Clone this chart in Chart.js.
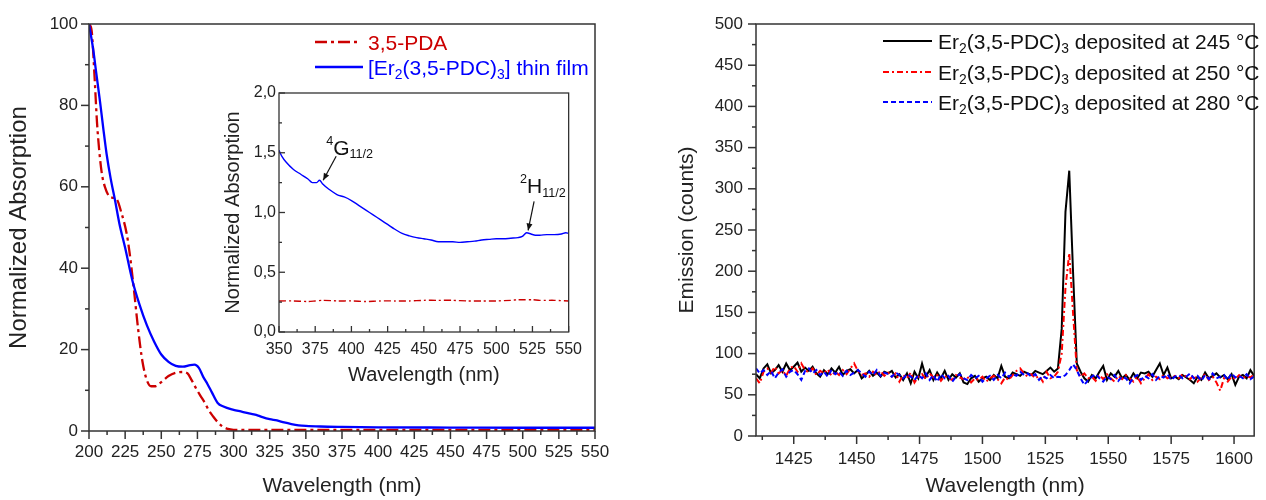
<!DOCTYPE html>
<html><head><meta charset="utf-8">
<script src="https://cdn.jsdelivr.net/npm/chart.js@4.4.1/dist/chart.umd.min.js"></script>
<style>
html,body{margin:0;padding:0;background:#fff;}
#wrap{position:relative;width:1266px;height:500px;overflow:hidden;background:#fff;}
canvas{position:absolute;}
</style></head><body>
<div id="wrap">
<canvas id="cLeft" width="640" height="500" style="left:0;top:0;width:640px;height:500px"></canvas>
<canvas id="cInset" width="370" height="310" style="left:220px;top:80px;width:370px;height:310px"></canvas>
<canvas id="cRight" width="596" height="500" style="left:670px;top:0;width:596px;height:500px"></canvas>
</div>
<script>
// ---------- LEFT PANEL: absorption ----------
const paWl  = [200,201.8,204,205.5,207.6,209,211,214.5,219,222.6,226,228,231,234,237,240,243,246,250,255,260,265,268,271,274,277,280,283,286,289,292,296,300,350,400,450,500,550];
const paAbs = [100,98.4,86,76,67,63,60,57.5,57,53.4,48.6,44,35,25,17,12.5,11,11,12,13.5,14.3,14.5,14.2,12.5,10.5,8.7,7,5,3.5,2.2,1.2,0.5,0.3,0.3,0.3,0.3,0.3,0.3];
const filmWl  = [200,203,205,207.6,210,212.2,215,218,221,225,230,235,240,245,250,255,260,265,270,273,276,279,282,285,289,293,300,305,310,314,317,320,325,330,335,340,345,350,360,375,400,450,500,550];
const filmAbs = [100,93.5,88,81,74,68,62,56.7,51,45,37,31,26,22,18.8,17,16,15.8,16.2,16.3,15.5,13.3,11.5,9.5,6.9,6,5.2,4.8,4.4,4.1,3.8,3.4,2.9,2.6,2.1,1.7,1.4,1.25,1.1,1.0,0.9,0.85,0.8,0.8];
const leftXTicks = [200,225,250,275,300,325,350,375,400,425,450,475,500,525,550];
const leftYTicks = [0,20,40,60,80,100];

// ---------- INSET ----------
const insetWl   = [350,352,355,360,365,370,373,376,378,380,385,390,395,400,405,410,415,420,425,430,435,440,445,450,455,460,465,470,475,480,485,490,495,500,505,510,515,518,521,524,527,530,535,540,545,548,550];
const insetFilm = [1.52,1.47,1.42,1.36,1.32,1.28,1.25,1.25,1.27,1.24,1.19,1.15,1.13,1.10,1.06,1.02,0.98,0.94,0.90,0.86,0.825,0.805,0.79,0.78,0.77,0.755,0.755,0.755,0.75,0.755,0.76,0.77,0.775,0.78,0.78,0.785,0.79,0.80,0.83,0.82,0.81,0.81,0.815,0.815,0.82,0.83,0.825];
const insetPaWl = [350,360,370,375,380,390,400,410,420,430,440,450,460,470,480,490,500,510,515,520,525,530,540,550];
const insetPa   = [0.26,0.26,0.255,0.26,0.265,0.26,0.26,0.255,0.26,0.26,0.26,0.265,0.265,0.265,0.26,0.26,0.26,0.265,0.27,0.27,0.27,0.265,0.265,0.26];
const insetXTicks = [350,375,400,425,450,475,500,525,550];
const insetYTicks = [0,0.5,1,1.5,2];

// ---------- RIGHT PANEL: emission ----------
const emWl = [
1410,1411.5,1413,1414.5,1416,1417.5,1419,1420.5,1422,1423.5,
1425,1426.5,1428,1429.5,1431,1432.5,1434,1435.5,1437,1438.5,
1440,1441.5,1443,1444.5,1446,1447.5,1449,1450.5,1452,1453.5,
1455,1456.5,1458,1459.5,1461,1462.5,1464,1465.5,1467,1468.5,
1470,1471.5,1473,1474.5,1476,1477.5,1479,1480.5,1482,1483.5,
1485,1486.5,1488,1489.5,1491,1492.5,1494,1495.5,1497,1498.5,
1500,1501.5,1503,1504.5,1506,1507.5,1509,1510.5,1512,1513.5,
1515,1516.5,1518,1519.5,1521,1522.5,1524,1525.5,1527,1528.5,
1530,1531.5,1533,1534.5,1536,1537.5,1539,1540.5,1542,1543.5,
1545,1546.5,1548,1549.5,1551,1552.5,1554,1555.5,1557,1558.5,
1560,1561.5,1563,1564.5,1566,1567.5,1569,1570.5,1572,1573.5,
1575,1576.5,1578,1579.5,1581,1582.5,1584,1585.5,1587,1588.5,
1590,1591.5,1593,1594.5,1596,1597.5,1599,1600.5,1602,1603.5,
1605,1606.5,1608];
const em245 = [
75,70,82,87,76,80,86,78,88,80,
84,89,78,83,79,84,76,72,80,75,
82,77,84,74,79,81,76,80,70,74,
79,73,77,72,78,76,79,71,75,68,
76,64,78,70,88,72,80,68,77,70,
79,68,75,71,76,65,63,70,73,66,
70,72,68,74,70,85,72,70,77,75,
73,78,76,74,79,77,75,79,83,78,
82,130,272,322,200,88,78,70,66,74,
70,78,85,68,76,72,79,70,74,68,
76,70,77,76,78,72,80,88,74,83,
70,72,69,74,71,68,64,72,68,77,
70,73,76,71,74,69,75,62,72,74,
70,80,73];
const em250 = [
70,64,78,82,77,84,76,80,73,82,
85,78,88,80,77,82,74,79,76,81,
73,78,74,80,75,82,88,79,74,76,
72,78,74,79,73,77,72,76,66,74,
70,77,65,72,75,69,76,71,74,67,
73,70,68,74,71,69,72,65,70,68,
72,66,70,73,69,64,71,68,74,79,
82,76,72,75,70,73,66,78,70,72,
78,100,180,222,150,80,72,76,70,72,
67,74,69,75,70,66,73,69,74,70,
66,72,64,70,75,68,72,69,74,70,
72,73,70,75,72,69,74,66,71,75,
68,72,65,55,70,66,72,69,74,70,
73,71,75];
const em280 = [
82,76,80,74,79,70,77,81,72,78,
80,75,68,79,82,76,80,74,78,72,
80,75,78,73,79,74,77,80,76,72,
78,74,80,73,77,75,72,77,74,70,
75,72,68,74,70,76,68,74,66,75,
70,73,66,72,75,70,68,74,70,73,
66,70,73,68,74,70,77,72,75,73,
78,74,76,72,75,68,73,70,74,70,
72,71,74,80,87,80,70,62,68,72,
75,70,66,72,69,74,67,72,70,64,
71,74,68,73,70,75,68,73,71,75,
68,72,74,70,72,76,70,73,67,74,
69,76,70,72,74,68,76,71,73,70,
75,69,72];
const rightXTicks = [1425,1450,1475,1500,1525,1550,1575,1600];
const rightYTicks = [0,50,100,150,200,250,300,350,400,450,500];

// ---------- helpers ----------
const FONT = '"Liberation Sans", Arial, Helvetica, sans-serif';
Chart.defaults.font.family = FONT;
Chart.defaults.color = '#222';
Chart.defaults.animation = false;

function pts(xs, ys) { return xs.map((x, i) => ({x: x, y: ys[i]})); }
function minors(majors, lo, hi) {
  const step = majors[1] - majors[0];
  const out = [];
  for (let v = majors[0] - step / 2; v <= hi + 1e-9; v += step) if (v >= lo - 1e-9) out.push(v);
  return out;
}
function setTicks(arr) { return s => { s.ticks = arr.map(v => ({value: v})); }; }
const plain = v => String(v);

function rich(ctx, x, y, parts, size, color, subOff, supOff, ratio) {
  ctx.fillStyle = color;
  ctx.textBaseline = 'alphabetic';
  ctx.textAlign = 'left';
  for (const [t, m] of parts) {
    const fs = m === 'n' ? size : size * ratio;
    ctx.font = fs + 'px ' + FONT;
    const dy = m === 'sub' ? size * subOff : (m === 'sup' ? -size * supOff : 0);
    ctx.fillText(t, x, y + dy);
    x += ctx.measureText(t).width;
  }
  return x;
}

const frame = {
  id: 'frame',
  afterDatasetsDraw(chart, args, o) {
    const {ctx, chartArea: a, scales: {x, y}} = chart;
    ctx.save();
    ctx.strokeStyle = '#333';
    ctx.lineWidth = o.lw;
    ctx.setLineDash([]);
    ctx.strokeRect(a.left, a.top, a.right - a.left, a.bottom - a.top);
    const d = o.inward ? -1 : 1;
    const tick = (px, isX, len) => {
      ctx.beginPath();
      if (isX) { ctx.moveTo(px, a.bottom); ctx.lineTo(px, a.bottom + d * len); }
      else { ctx.moveTo(a.left, px); ctx.lineTo(a.left - d * len, px); }
      ctx.stroke();
    };
    o.xMajor.forEach(v => tick(x.getPixelForValue(v), true, o.major));
    o.xMinor.forEach(v => tick(x.getPixelForValue(v), true, o.minor));
    o.yMajor.forEach(v => tick(y.getPixelForValue(v), false, o.major));
    o.yMinor.forEach(v => tick(y.getPixelForValue(v), false, o.minor));
    ctx.restore();
  }
};

const richLegend = {
  id: 'richLegend',
  afterDraw(chart, args, o) {
    const ctx = chart.ctx;
    ctx.save();
    for (const it of o.items) {
      ctx.beginPath();
      ctx.strokeStyle = it.color;
      ctx.lineWidth = it.lw;
      ctx.setLineDash(it.dash || []);
      ctx.moveTo(it.x1, it.y);
      ctx.lineTo(it.x2, it.y);
      ctx.stroke();
      ctx.setLineDash([]);
      rich(ctx, it.tx, it.y + o.size * 0.36, it.parts, o.size, it.textColor, 0.22, 0.45, 0.66);
    }
    ctx.restore();
  }
};

const annot = {
  id: 'annot',
  afterDraw(chart, args, o) {
    const {ctx, scales: {x, y}} = chart;
    ctx.save();
    for (const it of o.items) {
      const tx = x.getPixelForValue(it.at[0]);
      const ty = y.getPixelForValue(it.at[1]);
      const sx = tx + it.tail[0], sy = ty + it.tail[1];
      ctx.strokeStyle = '#111'; ctx.fillStyle = '#111'; ctx.lineWidth = 1.2;
      ctx.beginPath(); ctx.moveTo(sx, sy); ctx.lineTo(tx, ty); ctx.stroke();
      const ang = Math.atan2(ty - sy, tx - sx);
      const L = 7, W = 3;
      ctx.beginPath();
      ctx.moveTo(tx, ty);
      ctx.lineTo(tx - L * Math.cos(ang) + W * Math.sin(ang), ty - L * Math.sin(ang) - W * Math.cos(ang));
      ctx.lineTo(tx - L * Math.cos(ang) - W * Math.sin(ang), ty - L * Math.sin(ang) + W * Math.cos(ang));
      ctx.closePath(); ctx.fill();
      rich(ctx, tx + it.text[0], ty + it.text[1], it.parts, 21, '#111', 0.15, 0.5, 0.6);
    }
    ctx.restore();
  }
};

const axisTitleColor = '#222';

// ---------- LEFT CHART ----------
new Chart(document.getElementById('cLeft'), {
  type: 'line',
  data: { datasets: [
    { data: pts(filmWl, filmAbs), borderColor: '#0000ff', borderWidth: 2.3, pointRadius: 0, cubicInterpolationMode: 'monotone', fill: false },
    { data: pts(paWl, paAbs), borderColor: '#cc0000', borderWidth: 2.3, borderDash: [12, 4, 3, 4], pointRadius: 0, cubicInterpolationMode: 'monotone', fill: false }
  ]},
  options: {
    responsive: false, animation: false, events: [],
    layout: { padding: { left: 0, top: 24, right: 45, bottom: 0 } },
    plugins: {
      legend: { display: false }, tooltip: { enabled: false },
      frame: { lw: 1.5, inward: false, major: 8, minor: 4,
        xMajor: leftXTicks, xMinor: minors(leftXTicks, 200, 550),
        yMajor: leftYTicks, yMinor: minors(leftYTicks, 0, 100) },
      richLegend: { size: 21, items: [
        { x1: 315, x2: 358, y: 42, color: '#cc0000', lw: 2.3, dash: [12, 4, 3, 4], tx: 368, textColor: '#cc0000', parts: [['3,5-PDA', 'n']] },
        { x1: 315, x2: 363, y: 67, color: '#0000ff', lw: 2.3, tx: 368, textColor: '#0000ff',
          parts: [['[Er', 'n'], ['2', 'sub'], ['(3,5-PDC)', 'n'], ['3', 'sub'], ['] thin film', 'n']] }
      ]}
    },
    scales: {
      x: { type: 'linear', min: 200, max: 550,
        grid: { display: false, drawTicks: false }, border: { display: false },
        afterBuildTicks: setTicks(leftXTicks),
        ticks: { font: { size: 17 }, padding: 11, maxRotation: 0, autoSkip: false, color: '#222', callback: plain },
        title: { display: true, text: 'Wavelength (nm)', font: { size: 21 }, color: axisTitleColor, padding: { top: 0, bottom: 1.5 } },
        afterFit: s => { s.height = 69; } },
      y: { type: 'linear', min: 0, max: 100,
        grid: { display: false, drawTicks: false }, border: { display: false },
        afterBuildTicks: setTicks(leftYTicks),
        ticks: { font: { size: 17 }, padding: 11, color: '#222', callback: plain },
        title: { display: true, text: 'Normalized Absorption', font: { size: 24 }, color: axisTitleColor, padding: { top: 5, bottom: 0 } },
        afterFit: s => { s.width = 89; } }
    }
  },
  plugins: [frame, richLegend]
});

// ---------- INSET CHART ----------
new Chart(document.getElementById('cInset'), {
  type: 'line',
  data: { datasets: [
    { data: pts(insetWl, insetFilm), borderColor: '#0000ff', borderWidth: 1.4, pointRadius: 0, cubicInterpolationMode: 'monotone', fill: false },
    { data: pts(insetPaWl, insetPa), borderColor: '#cc0000', borderWidth: 1.4, borderDash: [7, 3, 2, 3], pointRadius: 0, tension: 0.2, fill: false }
  ]},
  options: {
    responsive: false, animation: false, events: [],
    layout: { padding: { left: 0, top: 13, right: 14, bottom: 0 } },
    plugins: {
      legend: { display: false }, tooltip: { enabled: false },
      frame: { lw: 1.3, inward: true, major: 6, minor: 3,
        xMajor: insetXTicks, xMinor: minors(insetXTicks, 350, 550),
        yMajor: insetYTicks, yMinor: minors(insetYTicks, 0, 2) },
      annot: { items: [
        { at: [380.5, 1.27], tail: [13, -24], text: [3, -25], parts: [['4', 'sup'], ['G', 'n'], ['11/2', 'sub']] },
        { at: [522, 0.85], tail: [6, -29], text: [-8, -37], parts: [['2', 'sup'], ['H', 'n'], ['11/2', 'sub']] }
      ]}
    },
    scales: {
      x: { type: 'linear', min: 350, max: 550,
        grid: { display: false, drawTicks: false }, border: { display: false },
        afterBuildTicks: setTicks(insetXTicks),
        ticks: { font: { size: 16 }, padding: 8, maxRotation: 0, autoSkip: false, color: '#222', callback: plain },
        title: { display: true, text: 'Wavelength (nm)', font: { size: 20 }, color: axisTitleColor, padding: { top: 0, bottom: 3 } },
        afterFit: s => { s.height = 58; } },
      y: { type: 'linear', min: 0, max: 2,
        grid: { display: false, drawTicks: false }, border: { display: false },
        afterBuildTicks: setTicks(insetYTicks),
        ticks: { font: { size: 16 }, padding: 3, color: '#222', callback: v => Number(v).toFixed(1).replace('.', ',') },
        title: { display: true, text: 'Normalized Absorption', font: { size: 20 }, color: axisTitleColor, padding: { top: 1, bottom: 0 } },
        afterFit: s => { s.width = 59; } }
    }
  },
  plugins: [frame, annot]
});

// ---------- RIGHT CHART ----------
new Chart(document.getElementById('cRight'), {
  type: 'line',
  data: { datasets: [
    { data: pts(emWl, em280), borderColor: '#0000ff', borderWidth: 2, borderDash: [5, 3], pointRadius: 0, tension: 0, fill: false },
    { data: pts(emWl, em250), borderColor: '#ff0000', borderWidth: 2, borderDash: [6, 3, 2, 3], pointRadius: 0, tension: 0, fill: false },
    { data: pts(emWl, em245), borderColor: '#000000', borderWidth: 2, pointRadius: 0, tension: 0, fill: false }
  ]},
  options: {
    responsive: false, animation: false, events: [],
    layout: { padding: { left: 0, top: 24, right: 1, bottom: 0 } },
    plugins: {
      legend: { display: false }, tooltip: { enabled: false },
      frame: { lw: 1.5, inward: false, major: 8, minor: 4,
        xMajor: rightXTicks, xMinor: minors(rightXTicks, 1410, 1608),
        yMajor: rightYTicks, yMinor: minors(rightYTicks, 0, 500) },
      richLegend: { size: 21, items: [
        { x1: 213, x2: 262, y: 41, color: '#000000', lw: 2, tx: 268, textColor: '#111',
          parts: [['Er', 'n'], ['2', 'sub'], ['(3,5-PDC)', 'n'], ['3', 'sub'], [' deposited at 245 °C', 'n']] },
        { x1: 213, x2: 262, y: 72, color: '#ff0000', lw: 2, dash: [6, 3, 2, 3], tx: 268, textColor: '#111',
          parts: [['Er', 'n'], ['2', 'sub'], ['(3,5-PDC)', 'n'], ['3', 'sub'], [' deposited at 250 °C', 'n']] },
        { x1: 213, x2: 262, y: 102, color: '#0000ff', lw: 2, dash: [5, 3], tx: 268, textColor: '#111',
          parts: [['Er', 'n'], ['2', 'sub'], ['(3,5-PDC)', 'n'], ['3', 'sub'], [' deposited at 280 °C', 'n']] }
      ]}
    },
    scales: {
      x: { type: 'linear', min: 1410, max: 1608,
        grid: { display: false, drawTicks: false }, border: { display: false },
        afterBuildTicks: setTicks(rightXTicks),
        ticks: { font: { size: 17 }, padding: 13, maxRotation: 0, autoSkip: false, color: '#222', callback: plain },
        title: { display: true, text: 'Wavelength (nm)', font: { size: 21 }, color: axisTitleColor, padding: { top: 0, bottom: 1 } },
        afterFit: s => { s.height = 64; } },
      y: { type: 'linear', min: 0, max: 500,
        grid: { display: false, drawTicks: false }, border: { display: false },
        afterBuildTicks: setTicks(rightYTicks),
        ticks: { font: { size: 17 }, padding: 13, color: '#222', callback: plain },
        title: { display: true, text: 'Emission (counts)', font: { size: 21 }, color: axisTitleColor, padding: { top: 5, bottom: 0 } },
        afterFit: s => { s.width = 86; } }
    }
  },
  plugins: [frame, richLegend]
});
</script>
</body></html>
